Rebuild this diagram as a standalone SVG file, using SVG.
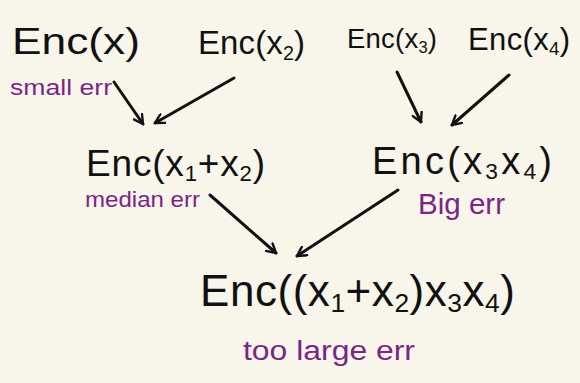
<svg xmlns="http://www.w3.org/2000/svg" width="580" height="383" viewBox="0 0 580 383">
<defs>
<marker id="ah" viewBox="0 0 12 12" refX="10" refY="6" markerWidth="12" markerHeight="12" markerUnits="userSpaceOnUse" orient="auto">
<polyline points="1,1 10,6 1,11" fill="none" stroke="#111" stroke-width="2.4" stroke-linecap="round" stroke-linejoin="round"/>
</marker>
<style>
.n{font-family:"Liberation Sans","DejaVu Sans",sans-serif;fill:#111;}
.e{font-family:"Liberation Sans","DejaVu Sans",sans-serif;fill:#7b2586;}
.c{fill:none;stroke:#111;stroke-width:3;stroke-linecap:round;marker-end:url(#ah);}
.s{font-size:0.6em;}
</style>
</defs>
<rect x="0" y="0" width="580" height="383" fill="#f8f6ea"/>
<g id="connectors">
<line class="c" x1="114" y1="82" x2="143" y2="124"/>
<line class="c" x1="234" y1="78" x2="155" y2="123"/>
<line class="c" x1="397" y1="72" x2="421" y2="122"/>
<line class="c" x1="509" y1="75" x2="452" y2="125"/>
<line class="c" x1="210" y1="195" x2="276" y2="253"/>
<line class="c" x1="398" y1="190" x2="297" y2="256"/>
</g>
<g id="node-x1"><text class="n" x="12" y="54" font-size="36" textLength="128" lengthAdjust="spacingAndGlyphs">Enc(x)</text></g>
<g id="node-x2"><text class="n" x="198" y="54" font-size="33" textLength="107">Enc(x<tspan class="s" dy="6">2</tspan><tspan dy="-6">)</tspan></text></g>
<g id="node-x3"><text class="n" x="347" y="48" font-size="27.5" textLength="90">Enc(x<tspan class="s" dy="5">3</tspan><tspan dy="-5">)</tspan></text></g>
<g id="node-x4"><text class="n" x="468" y="50" font-size="31" textLength="102">Enc(x<tspan class="s" dy="5">4</tspan><tspan dy="-5">)</tspan></text></g>
<g id="label-small"><text class="e" x="10" y="95" font-size="22" textLength="102" lengthAdjust="spacingAndGlyphs">small err</text></g>
<g id="node-x1x2"><text class="n" x="86" y="176" font-size="37" textLength="179">Enc(x<tspan class="s" dy="5">1</tspan><tspan dy="-5">+x</tspan><tspan class="s" dy="5">2</tspan><tspan dy="-5">)</tspan></text></g>
<g id="label-median"><text class="e" x="85" y="207" font-size="22" textLength="115" lengthAdjust="spacingAndGlyphs">median err</text></g>
<g id="node-x3x4"><text class="n" x="372" y="174" font-size="38" textLength="180">Enc(x<tspan class="s" dy="5">3</tspan><tspan dy="-5">x</tspan><tspan class="s" dy="5">4</tspan><tspan dy="-5">)</tspan></text></g>
<g id="label-big"><text class="e" x="418" y="214" font-size="29" textLength="87" lengthAdjust="spacingAndGlyphs">Big err</text></g>
<g id="node-all"><text class="n" x="200" y="306" font-size="44" textLength="315">Enc((x<tspan class="s" dy="6">1</tspan><tspan dy="-6">+x</tspan><tspan class="s" dy="6">2</tspan><tspan dy="-6">)x</tspan><tspan class="s" dy="6">3</tspan><tspan dy="-6">x</tspan><tspan class="s" dy="6">4</tspan><tspan dy="-6">)</tspan></text></g>
<g id="label-toolarge"><text class="e" x="243" y="360" font-size="27" textLength="172" lengthAdjust="spacingAndGlyphs">too large err</text></g>
</svg>
